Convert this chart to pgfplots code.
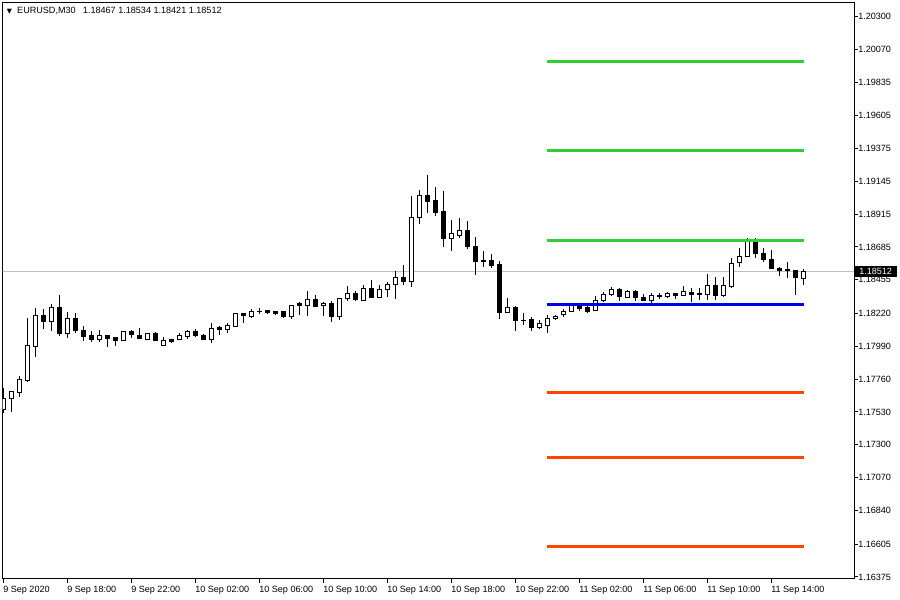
\documentclass[border=0pt]{standalone}
\usepackage{pgfplots}
\pgfplotsset{compat=1.18}
\usepackage{pgfplotstable}
\usepackage{fontspec}
\setmainfont{Liberation Sans}
\newfontfamily\symfont{DejaVu Sans}

\definecolor{bidgray}{RGB}{192,192,192}
\definecolor{lvlgreen}{RGB}{50,205,50}
\definecolor{lvlblue}{RGB}{0,0,230}
\definecolor{lvlred}{RGB}{255,69,0}

% EURUSD M30 candles: index, open, high, low, close
\pgfplotstableread{
i o h l c
0 1.17544 1.17698 1.17523 1.17621
1 1.17621 1.17677 1.17530 1.17670
2 1.17665 1.17782 1.17637 1.17754
3 1.17749 1.18186 1.17742 1.17992
4 1.17990 1.18256 1.17917 1.18207
5 1.18207 1.18249 1.18113 1.18162
6 1.18162 1.18286 1.18097 1.18263
7 1.18263 1.18349 1.18064 1.18081
8 1.18081 1.18230 1.18050 1.18186
9 1.18186 1.18221 1.18081 1.18099
10 1.18102 1.18132 1.18027 1.18060
11 1.18062 1.18095 1.18022 1.18034
12 1.18039 1.18102 1.18022 1.18062
13 1.18062 1.18062 1.17987 1.18046
14 1.18050 1.18057 1.17994 1.18029
15 1.18032 1.18097 1.18032 1.18090
16 1.18090 1.18104 1.18046 1.18074
17 1.18067 1.18116 1.18046 1.18046
18 1.18039 1.18076 1.18039 1.18076
19 1.18076 1.18090 1.18029 1.18029
20 1.17992 1.18053 1.17992 1.18029
21 1.18036 1.18041 1.18011 1.18025
22 1.18039 1.18081 1.18039 1.18062
23 1.18057 1.18104 1.18039 1.18095
24 1.18095 1.18109 1.18057 1.18067
25 1.18067 1.18076 1.18034 1.18039
26 1.18039 1.18151 1.18011 1.18116
27 1.18118 1.18132 1.18069 1.18104
28 1.18104 1.18151 1.18081 1.18132
29 1.18127 1.18216 1.18123 1.18216
30 1.18216 1.18216 1.18155 1.18202
31 1.18197 1.18251 1.18193 1.18230
32 1.18235 1.18256 1.18216 1.18233
33 1.18239 1.18244 1.18213 1.18225
34 1.18233 1.18239 1.18207 1.18216
35 1.18230 1.18230 1.18188 1.18197
36 1.18197 1.18281 1.18179 1.18277
37 1.18291 1.18300 1.18211 1.18277
38 1.18277 1.18377 1.18205 1.18319
39 1.18319 1.18349 1.18267 1.18267
40 1.18272 1.18298 1.18199 1.18288
41 1.18286 1.18309 1.18162 1.18197
42 1.18197 1.18326 1.18174 1.18326
43 1.18326 1.18414 1.18309 1.18356
44 1.18356 1.18377 1.18309 1.18319
45 1.18309 1.18419 1.18309 1.18396
46 1.18396 1.18454 1.18326 1.18333
47 1.18333 1.18419 1.18326 1.18389
48 1.18389 1.18442 1.18337 1.18424
49 1.18424 1.18515 1.18319 1.18473
50 1.18473 1.18559 1.18419 1.18442
51 1.18442 1.19042 1.18403 1.18893
52 1.18890 1.19084 1.18846 1.19042
53 1.19042 1.19189 1.18925 1.19002
54 1.19007 1.19107 1.18902 1.18925
55 1.18930 1.19077 1.18687 1.18743
56 1.18743 1.18874 1.18659 1.18776
57 1.18764 1.18886 1.18750 1.18802
58 1.18802 1.18867 1.18673 1.18687
59 1.18690 1.18753 1.18489 1.18582
60 1.18587 1.18657 1.18547 1.18585
61 1.18587 1.18636 1.18541 1.18552
62 1.18559 1.18589 1.18181 1.18225
63 1.18225 1.18330 1.18225 1.18258
64 1.18258 1.18272 1.18099 1.18169
65 1.18172 1.18221 1.18139 1.18170
66 1.18174 1.18197 1.18099 1.18120
67 1.18120 1.18174 1.18111 1.18146
68 1.18134 1.18209 1.18083 1.18186
69 1.18183 1.18211 1.18174 1.18200
70 1.18211 1.18249 1.18193 1.18235
71 1.18235 1.18277 1.18235 1.18272
72 1.18272 1.18286 1.18239 1.18251
73 1.18260 1.18279 1.18221 1.18233
74 1.18239 1.18342 1.18239 1.18309
75 1.18309 1.18372 1.18302 1.18354
76 1.18354 1.18407 1.18342 1.18389
77 1.18384 1.18396 1.18309 1.18337
78 1.18333 1.18384 1.18333 1.18370
79 1.18370 1.18384 1.18309 1.18330
80 1.18333 1.18353 1.18312 1.18312
81 1.18309 1.18363 1.18291 1.18342
82 1.18337 1.18363 1.18321 1.18342
83 1.18337 1.18368 1.18326 1.18356
84 1.18356 1.18365 1.18321 1.18344
85 1.18344 1.18412 1.18344 1.18372
86 1.18368 1.18400 1.18298 1.18354
87 1.18361 1.18400 1.18314 1.18354
88 1.18354 1.18494 1.18314 1.18417
89 1.18417 1.18477 1.18314 1.18344
90 1.18344 1.18477 1.18337 1.18417
91 1.18407 1.18606 1.18400 1.18571
92 1.18575 1.18680 1.18547 1.18617
93 1.18617 1.18750 1.18617 1.18727
94 1.18727 1.18746 1.18606 1.18641
95 1.18641 1.18680 1.18582 1.18599
96 1.18599 1.18664 1.18529 1.18536
97 1.18536 1.18547 1.18484 1.18517
98 1.18524 1.18578 1.18466 1.18517
99 1.18517 1.18524 1.18349 1.18473
100 1.18467 1.18534 1.18421 1.18512
}\candles

\pgfplotsset{
  chartbox/.style={
    at={(1.875pt,16.125pt)}, anchor=south west,
    scale only axis, width=638.625pt, height=431.85pt,
    xmin=-0.0625, xmax=106.375},
}

\begin{document}
\begin{tikzpicture}
\useasboundingbox (0,0) rectangle (675pt,450pt);

% frame, ticks, bid line and wicks
\begin{axis}[
    chartbox,
    ymin=1.163645, ymax=1.203951,
    axis line style={black, line width=0.75pt},
    tick style={black, line width=0.75pt},
    tick align=outside, major tick length=3pt,
    xtick pos=bottom, ytick pos=right, yticklabel pos=right,
    xtick={0,8,...,96},
    xticklabels={9 Sep 2020, 9 Sep 18:00, 9 Sep 22:00, 10 Sep 02:00, 10 Sep 06:00, 10 Sep 10:00, 10 Sep 14:00, 10 Sep 18:00, 10 Sep 22:00, 11 Sep 02:00, 11 Sep 06:00, 11 Sep 10:00, 11 Sep 14:00},
    ytick={1.20300,1.20070,1.19835,1.19605,1.19375,1.19145,1.18915,1.18685,1.18455,1.18220,1.17990,1.17760,1.17530,1.17300,1.17070,1.16840,1.16605,1.16375},
    yticklabels={1.20300,1.20070,1.19835,1.19605,1.19375,1.19145,1.18915,1.18685,1.18455,1.18220,1.17990,1.17760,1.17530,1.17300,1.17070,1.16840,1.16605,1.16375},
    tick label style={font=\fontsize{6.8}{8}\selectfont, inner sep=0pt},
    xticklabel style={anchor=north west, yshift=-2.25pt},
    yticklabel style={anchor=west},
    extra y ticks={1.18512},
    extra y tick labels={1.18512},
    extra y tick style={major tick length=0pt,
        yticklabel style={fill=black, text=white, inner xsep=3.75pt, inner ysep=1.7pt}},
    title={{\symfont\fontsize{5}{5}\selectfont ▼}\hspace{4pt}EURUSD,M30\hspace{5.5pt}1.18467 1.18534 1.18421 1.18512},
    title style={at={(0,1)}, anchor=north west, xshift=3pt, yshift=-9.4pt,
        inner sep=0pt, font=\fontsize{6.8}{8}\selectfont},
]
\addplot[bidgray, line width=0.75pt] coordinates {(-1,1.18512) (110,1.18512)};

% wicks: high-low ranges as error bars, no marks
\addplot[draw=none, mark=none,
    error bars/.cd, y dir=both, y explicit, error mark=none,
    error bar style={draw=black, line width=0.75pt}]
    table[x=i, y expr={(\thisrow{h}+\thisrow{l})/2},
          y error expr={(\thisrow{h}-\thisrow{l})/2}] {\candles};
\end{axis}

% candle bodies as stacked bars (prices shifted by 1.16)
\begin{axis}[
    chartbox, hide axis,
    ymin=0.003645, ymax=0.043951,
    ybar stacked, bar width=3pt,
]
\addplot[draw=none, fill=none]
    table[x=i, y expr={min(\thisrow{o},\thisrow{c})-1.16}] {\candles};
\addplot[draw=black, fill=white, line width=0.75pt]
    table[x=i, y expr={max(\thisrow{c}-\thisrow{o},0)}] {\candles};
\addplot[draw=black, fill=black, line width=0.75pt]
    table[x=i, y expr={max(\thisrow{o}-\thisrow{c},0)}] {\candles};
\end{axis}

% pivot levels on top
\begin{axis}[
    chartbox, hide axis,
    ymin=1.163645, ymax=1.203951,
]
\addplot[lvlgreen, line width=2.25pt] coordinates {(67.95,1.19980) (100.1,1.19980)};
\addplot[lvlgreen, line width=2.25pt] coordinates {(67.95,1.19357) (100.1,1.19357)};
\addplot[lvlgreen, line width=2.25pt] coordinates {(67.95,1.18732) (100.1,1.18732)};
\addplot[lvlblue, line width=2.25pt] coordinates {(67.95,1.18285) (100.1,1.18285)};
\addplot[lvlred, line width=2.25pt] coordinates {(67.95,1.17663) (100.1,1.17663)};
\addplot[lvlred, line width=2.25pt] coordinates {(67.95,1.17208) (100.1,1.17208)};
\addplot[lvlred, line width=2.25pt] coordinates {(67.95,1.16585) (100.1,1.16585)};
\end{axis}
\end{tikzpicture}
\end{document}
